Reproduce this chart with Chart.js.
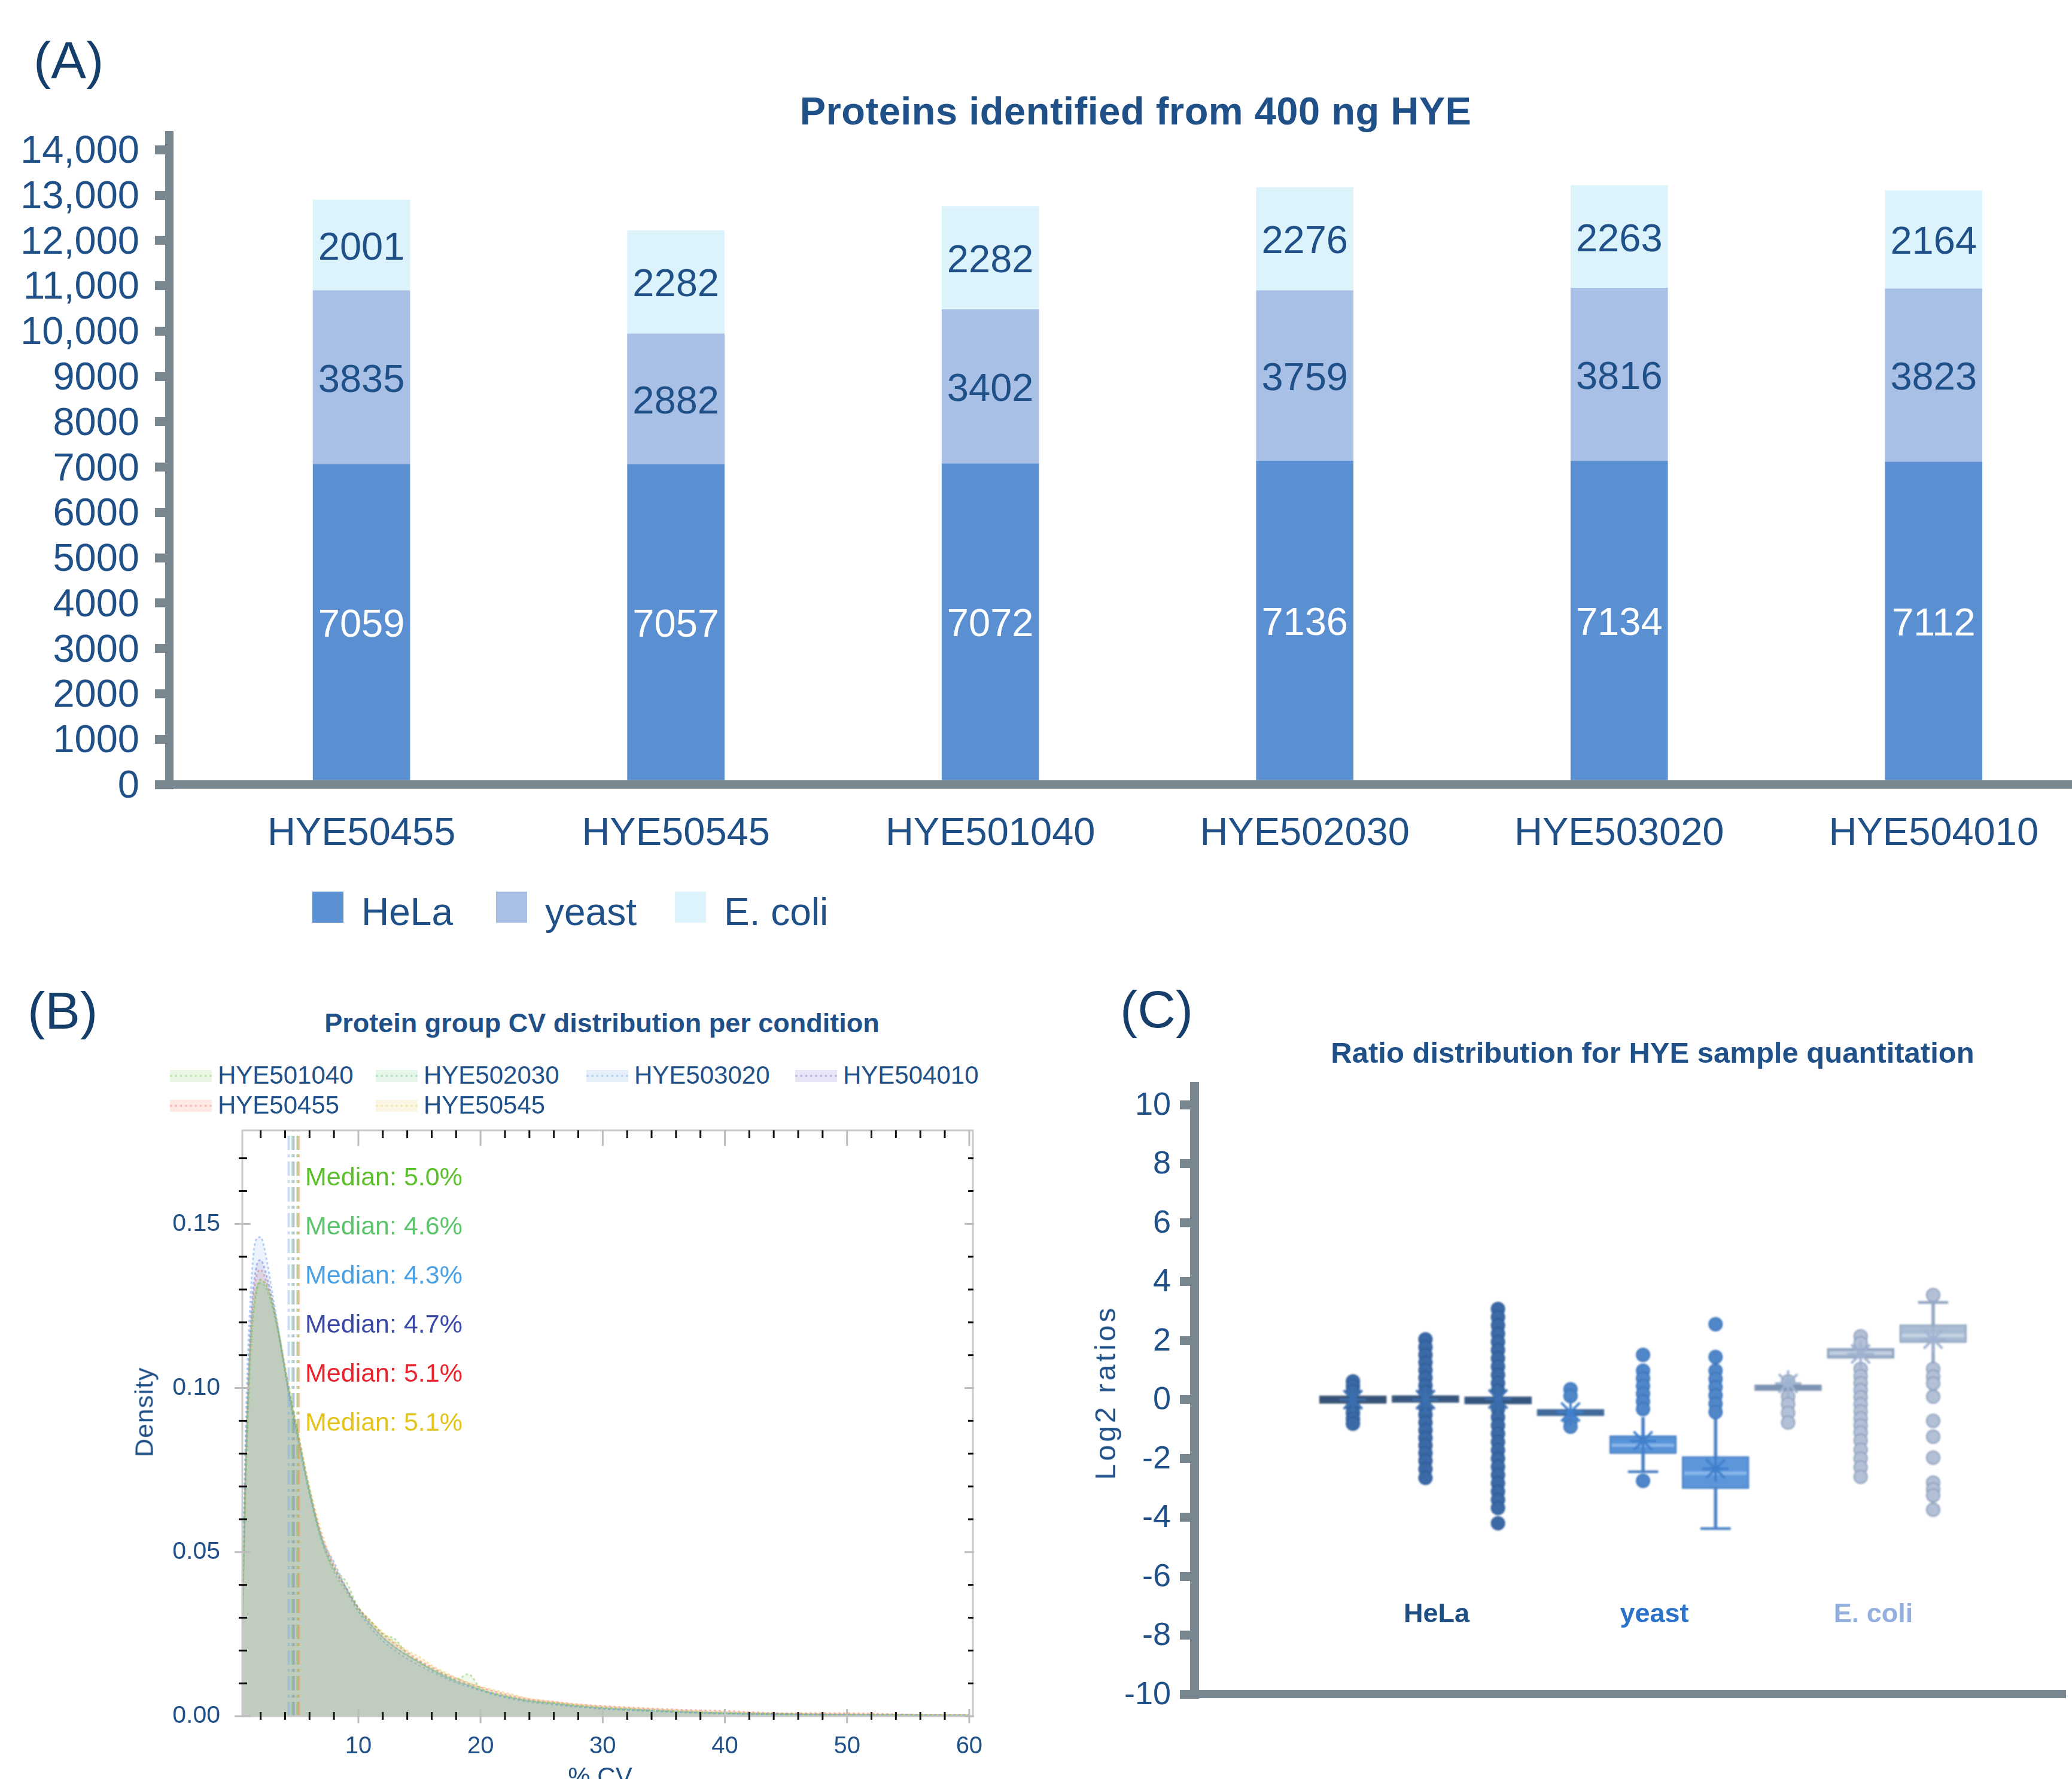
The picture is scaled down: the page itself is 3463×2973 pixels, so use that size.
<!DOCTYPE html>
<html>
<head>
<meta charset="utf-8">
<title>HYE benchmark</title>
<script src="https://cdn.jsdelivr.net/npm/chart.js@4.4.1/dist/chart.umd.min.js"></script>
<style>
  html, body { margin: 0; padding: 0; background: #ffffff; }
  #page { position: relative; width: 3463px; height: 2973px; overflow: hidden; background: #ffffff;
          font-family: "Liberation Sans", Arial, Helvetica, sans-serif; color: #1f5088; }
  #page canvas { position: absolute; }
  .t { position: absolute; white-space: nowrap; line-height: 1; }
  .sw { position: absolute; }
  .sw i { position: absolute; left: 0; right: 0; top: 50%; margin-top: -2px; border-top: 4px dotted; }
</style>
</head>
<body>
<div id="page">
  <canvas id="chartA" width="3463" height="1460" style="left:0;top:0;width:3463px;height:1460px"></canvas>
  <canvas id="chartB" width="1700" height="1113" style="left:0;top:1860px;width:1700px;height:1113px"></canvas>
  <canvas id="chartCAxes" width="1663" height="1183" style="left:1800px;top:1790px;width:1663px;height:1183px"></canvas>
  <canvas id="chartCMarks" width="1663" height="1183" style="left:1800px;top:1790px;width:1663px;height:1183px;filter:blur(1.6px)"></canvas>
</div>
<script>
// ---------- (A) protein identifications ----------
const conditions = ['HYE50455', 'HYE50545', 'HYE501040', 'HYE502030', 'HYE503020', 'HYE504010'];
const speciesNames = ['HeLa', 'yeast', 'E. coli'];
const helaCounts  = [7059, 7057, 7072, 7136, 7134, 7112];
const yeastCounts = [3835, 2882, 3402, 3759, 3816, 3823];
const ecoliCounts = [2001, 2282, 2282, 2276, 2263, 2164];
const countTicks = [0, 1000, 2000, 3000, 4000, 5000, 6000, 7000, 8000, 9000, 10000, 11000, 12000, 13000, 14000];
const countTickLabels = ['0', '1000', '2000', '3000', '4000', '5000', '6000', '7000', '8000', '9000',
                         '10,000', '11,000', '12,000', '13,000', '14,000'];

// ---------- (B) CV density per condition ----------
const cvSeriesNames = ['HYE501040', 'HYE502030', 'HYE503020', 'HYE504010', 'HYE50455', 'HYE50545'];
const cvGrid = [0.5, 0.8, 1.2, 1.6, 2.0, 2.5, 3.0, 3.5, 4.0, 4.5, 5.0, 6.0, 7.0, 8.0, 9.0, 10, 11, 12, 13, 14,
                15, 16, 17, 18, 19, 20, 22, 24, 26, 28, 30, 33, 36, 40, 45, 50, 55, 60];
const density501040 = [0.028, 0.074, 0.112, 0.128, 0.133, 0.131, 0.125, 0.116, 0.105, 0.095, 0.086, 0.068, 0.053,
  0.045, 0.041, 0.033, 0.029, 0.025, 0.0235, 0.019, 0.0165, 0.0145, 0.0128, 0.0112, 0.0128, 0.0085, 0.0063,
  0.0047, 0.0040, 0.0032, 0.0026, 0.0020, 0.0015, 0.0010, 0.0007, 0.0005, 0.0004, 0.0003];
const density502030 = [0.030, 0.078, 0.115, 0.129, 0.132, 0.130, 0.124, 0.116, 0.106, 0.096, 0.087, 0.069, 0.054,
  0.044, 0.038, 0.032, 0.028, 0.024, 0.021, 0.0185, 0.0162, 0.0142, 0.0122, 0.0105, 0.0095, 0.0082, 0.0061,
  0.0046, 0.0039, 0.0031, 0.0025, 0.0019, 0.0014, 0.0009, 0.0006, 0.0004, 0.0003, 0.0002];
const density503020 = [0.034, 0.092, 0.130, 0.145, 0.146, 0.139, 0.128, 0.117, 0.105, 0.094, 0.085, 0.068, 0.054,
  0.047, 0.039, 0.032, 0.027, 0.023, 0.020, 0.0175, 0.0155, 0.0135, 0.0118, 0.0102, 0.0090, 0.0078, 0.0057,
  0.0043, 0.0035, 0.0028, 0.0022, 0.0017, 0.0012, 0.0008, 0.0005, 0.0004, 0.0003, 0.0002];
const density504010 = [0.031, 0.082, 0.121, 0.136, 0.139, 0.134, 0.126, 0.116, 0.105, 0.095, 0.086, 0.068, 0.054,
  0.045, 0.039, 0.033, 0.028, 0.024, 0.021, 0.0185, 0.0165, 0.0142, 0.0124, 0.0108, 0.0094, 0.0080, 0.0060,
  0.0047, 0.0038, 0.0030, 0.0024, 0.0019, 0.0014, 0.0009, 0.0006, 0.0004, 0.0003, 0.0002];
const density50455 = [0.029, 0.079, 0.118, 0.133, 0.136, 0.132, 0.125, 0.116, 0.106, 0.096, 0.087, 0.069, 0.055,
  0.046, 0.039, 0.033, 0.029, 0.025, 0.022, 0.0195, 0.017, 0.015, 0.013, 0.0115, 0.0100, 0.0088, 0.0067,
  0.0052, 0.0044, 0.0036, 0.0031, 0.0025, 0.0020, 0.0016, 0.0009, 0.0009, 0.0005, 0.0004];
const density50545 = [0.028, 0.076, 0.114, 0.129, 0.133, 0.131, 0.126, 0.117, 0.107, 0.097, 0.088, 0.070, 0.056,
  0.046, 0.039, 0.033, 0.029, 0.0255, 0.0225, 0.020, 0.018, 0.0155, 0.0135, 0.0117, 0.0102, 0.0090, 0.0072,
  0.0053, 0.0043, 0.0035, 0.0029, 0.0023, 0.0018, 0.0012, 0.0008, 0.0006, 0.0005, 0.0004];
const cvMedians = [5.0, 4.6, 4.3, 4.7, 5.1, 5.1];
const densityTicks = [0, 0.05, 0.10, 0.15];
const densityTickLabels = ['0.00', '0.05', '0.10', '0.15'];
const cvTicks = [10, 20, 30, 40, 50, 60];

// ---------- (C) log2 ratio distributions ----------
const ratioGroups = ['HeLa', 'yeast', 'E. coli'];
const boxSlots   = [1, 2, 3, 4, 5, 6, 7, 8, 9];
const boxQ1      = [-0.13, -0.10, -0.15, -0.55, -1.84, -3.02, 0.30, 1.40, 1.93];
const boxQ3      = [0.13, 0.14, 0.10, -0.33, -1.22, -1.93, 0.50, 1.74, 2.55];
const boxMedian  = [0.00, 0.03, -0.03, -0.44, -1.55, -2.50, 0.40, 1.58, 2.18];
const boxMean    = [0.00, 0.00, 0.02, -0.42, -1.40, -2.35, 0.55, 1.55, 2.05];
const whiskerLow  = [null, null, null, null, -2.45, -4.38, null, null, 1.15];
const whiskerHigh = [null, null, null, null, -0.60, -0.58, null, null, 3.30];
const ratioOutliers = [
  [0.62, 0.45, 0.28, -0.25, -0.45, -0.65, -0.82],
  [2.05, 1.78, 1.52, 1.26, 1.0, 0.74, 0.48, 0.26, -0.28, -0.52, -0.78, -1.04, -1.3, -1.56, -1.82, -2.08, -2.36, -2.66],
  [3.08, 2.8, 2.52, 2.24, 1.96, 1.68, 1.4, 1.12, 0.84, 0.56, 0.3, -0.32, -0.6, -0.88, -1.16, -1.44, -1.72, -2.0,
   -2.28, -2.56, -2.84, -3.12, -3.4, -3.68, -4.2],
  [0.35, 0.12, -0.72, -0.92],
  [1.52, 0.98, 0.72, 0.46, 0.2, -0.06, -0.32, -2.76],
  [2.56, 1.45, 0.98, 0.7, 0.42, 0.14, -0.14, -0.42],
  [0.62, 0.1, -0.15, -0.45, -0.78],
  [2.15, 1.92, 1.04, 0.8, 0.56, 0.32, 0.08, -0.16, -0.4, -0.64, -0.88, -1.12, -1.39, -1.7, -2.0, -2.3, -2.62],
  [3.55, 1.04, 0.78, 0.55, 0.1, -0.72, -1.26, -1.97, -2.82, -3.05, -3.25, -3.74]
];
const ratioTicks = [-10, -8, -6, -4, -2, 0, 2, 4, 6, 8, 10];

// ---------- shared styling ----------
const FONT = '"Liberation Sans", Arial, Helvetica, sans-serif';
const INK = '#1f5088';
const AXIS = '#77868f';
Chart.defaults.font.family = FONT;
Chart.defaults.color = INK;

const page = document.getElementById('page');

function place(text, x, baseline, size, o = {}) {
  const d = document.createElement('div');
  d.className = 't';
  d.textContent = text;
  d.style.fontSize = size + 'px';
  d.style.top = (baseline - 0.8465 * size) + 'px';
  d.style.left = x + 'px';
  if (o.weight) d.style.fontWeight = o.weight;
  if (o.color) d.style.color = o.color;
  if (o.spacing) d.style.letterSpacing = o.spacing + 'px';
  if (o.align === 'center') d.style.transform = 'translateX(-50%)';
  page.appendChild(d);
  return d;
}
function placeVertical(text, cx, cy, size, o = {}) {
  const d = place(text, cx, 0, size, o);
  d.style.top = cy + 'px';
  d.style.transform = 'translate(-50%,-50%) rotate(-90deg)';
  return d;
}
// fixed axis band sizes; tick labels may overhang the plot edge without moving it
function fixWidth(w) {
  return s => { s.width = w; s.paddingTop = 0; s.paddingBottom = 0; };
}
function fixHeight(h) {
  return s => { s.height = h; s.paddingLeft = 0; s.paddingRight = 0; };
}

// ---------- chart A ----------
const segmentValues = {
  id: 'segmentValues',
  afterDatasetsDraw(chart) {
    const ctx = chart.ctx;
    ctx.save();
    ctx.font = '65px ' + FONT;
    ctx.textAlign = 'center';
    ctx.textBaseline = 'middle';
    chart.data.datasets.forEach((ds, di) => {
      chart.getDatasetMeta(di).data.forEach((bar, i) => {
        const p = bar.getProps(['x', 'y', 'base'], true);
        ctx.fillStyle = ds.valueColor;
        ctx.fillText(String(ds.data[i]), p.x, (p.y + p.base) / 2 + 6);
      });
    });
    ctx.restore();
  }
};

const speciesColors = ['#5a8fd2', '#a8bfe6', '#ddf3fc'];

new Chart(document.getElementById('chartA'), {
  type: 'bar',
  data: {
    labels: conditions.map((_, i) => i),
    datasets: [
      { label: speciesNames[0], data: helaCounts,  backgroundColor: speciesColors[0], valueColor: '#ffffff' },
      { label: speciesNames[1], data: yeastCounts, backgroundColor: speciesColors[1], valueColor: INK },
      { label: speciesNames[2], data: ecoliCounts, backgroundColor: speciesColors[2], valueColor: INK }
    ]
  },
  options: {
    responsive: false, animation: false, devicePixelRatio: 1,
    layout: { padding: { top: 226, left: 0, right: 0, bottom: 0 } },
    plugins: { legend: { display: false }, tooltip: { enabled: false } },
    datasets: { bar: { barThickness: 162, borderWidth: 0 } },
    scales: {
      x: {
        type: 'linear', stacked: true, offset: false, min: -0.611, max: 5.44,
        afterBuildTicks: s => { s.ticks = conditions.map((_, i) => ({ value: i })); },
        afterFit: fixHeight(149),
        ticks: { callback: (v, i) => conditions[i], autoSkip: false, maxRotation: 0,
                 font: { size: 65 }, color: INK, padding: 44 },
        grid: { display: false, drawTicks: false },
        border: { display: true, color: AXIS, width: 14 }
      },
      y: {
        type: 'linear', stacked: true, min: 0, max: 14320,
        afterBuildTicks: s => { s.ticks = countTicks.map(v => ({ value: v })); },
        afterFit: fixWidth(283),
        ticks: { callback: (v, i) => countTickLabels[i], autoSkip: false, font: { size: 65 }, color: INK,
                 padding: 26, labelOffset: 4 },
        grid: { drawOnChartArea: false, drawTicks: true, tickLength: 24, tickWidth: 15, tickColor: AXIS, lineWidth: 15, color: AXIS },
        border: { display: true, color: AXIS, width: 14 }
      }
    }
  },
  plugins: [segmentValues]
});

place('(A)', 56, 131, 88, { color: '#153f6a' });
place('Proteins identified from 400 ng HYE', 1898, 208, 65, { weight: 'bold', align: 'center', spacing: 0.5 });
const legendAX = [522, 829, 1128];
speciesNames.forEach((name, i) => {
  const b = document.createElement('div');
  b.className = 'sw';
  b.style.cssText = `left:${legendAX[i]}px;top:1490px;width:52px;height:52px;background:${speciesColors[i]}`;
  page.appendChild(b);
  place(name, legendAX[i] + 82, 1546, 64);
});

// ---------- chart B ----------
const cvColors = ['120,200,80', '95,190,120', '100,160,230', '110,100,200', '240,110,90', '230,200,80'];
const medianTextColors = ['#5bbf2b', '#5cc46b', '#4aa0e2', '#3a48a6', '#e9222b', '#e3c31c'];
const densitySeries = [density501040, density502030, density503020, density504010, density50455, density50545];
const densityMax = 0.1785;

const boxFrame = {
  id: 'boxFrame',
  afterDraw(chart) {
    const { ctx, chartArea: a, scales } = chart;
    const xs = scales.x, ys = scales.y;
    const seg = (x1, y1, x2, y2, c) => {
      ctx.beginPath(); ctx.strokeStyle = c; ctx.lineWidth = 3;
      ctx.moveTo(x1, y1); ctx.lineTo(x2, y2); ctx.stroke();
    };
    ctx.save();
    ctx.strokeStyle = '#c9c9c9'; ctx.lineWidth = 3;
    ctx.strokeRect(a.left, a.top, a.right - a.left, a.bottom - a.top);
    for (let k = 0; k <= 17; k++) {
      const py = ys.getPixelForValue(k / 100);
      if (k % 5 === 0) {
        seg(a.left - 13, py, a.left + 14, py, '#bdbdbd');
        seg(a.right - 14, py, a.right + 2, py, '#bdbdbd');
      } else {
        seg(a.left - 6, py, a.left + 8, py, '#111111');
        seg(a.right - 8, py, a.right + 1, py, '#111111');
      }
    }
    for (let v = 2; v <= 60; v += 2) {
      const px = xs.getPixelForValue(v);
      if (v % 10 === 0) {
        seg(px, a.top, px, a.top + 26, '#bdbdbd');
        seg(px, a.bottom - 12, px, a.bottom + 12, '#bdbdbd');
      } else {
        seg(px, a.top, px, a.top + 13, '#111111');
        seg(px, a.bottom - 7, px, a.bottom + 6, '#111111');
      }
    }
    ctx.restore();
  }
};

const bDatasets = [];
cvMedians.forEach((m, i) => {
  bDatasets.push({
    label: cvSeriesNames[i] + ' median',
    data: [{ x: m, y: 0 }, { x: m, y: densityMax }],
    borderColor: `rgba(${cvColors[i]},0.35)`, borderWidth: 4, borderDash: [24, 7, 5, 7],
    pointRadius: 0, fill: false, order: 0
  });
});
densitySeries.forEach((vals, i) => {
  bDatasets.push({
    label: cvSeriesNames[i],
    data: cvGrid.map((x, k) => ({ x, y: vals[k] })),
    borderColor: `rgba(${cvColors[i]},0.45)`, borderWidth: 3, borderDash: [4, 4],
    backgroundColor: `rgba(${cvColors[i]},0.12)`,
    fill: 'origin', pointRadius: 0, tension: 0.35, cubicInterpolationMode: 'monotone', order: 1
  });
});

new Chart(document.getElementById('chartB'), {
  type: 'line',
  data: { datasets: bDatasets },
  options: {
    responsive: false, animation: false, devicePixelRatio: 1,
    layout: { padding: { top: 29, left: 0, right: 74, bottom: 0 } },
    plugins: { legend: { display: false }, tooltip: { enabled: false } },
    scales: {
      x: {
        type: 'linear', min: 0.5, max: 60.3,
        afterBuildTicks: s => { s.ticks = cvTicks.map(v => ({ value: v })); },
        afterFit: fixHeight(105),
        ticks: { callback: v => String(v), autoSkip: false, maxRotation: 0, font: { size: 40 }, color: INK, padding: 27 },
        grid: { display: false, drawTicks: false },
        border: { display: false }
      },
      y: {
        type: 'linear', min: 0, max: densityMax,
        afterBuildTicks: s => { s.ticks = densityTicks.map(v => ({ value: v })); },
        afterFit: fixWidth(405),
        ticks: { callback: (v, i) => densityTickLabels[i], autoSkip: false, font: { size: 41 }, color: INK, padding: 37 },
        grid: { display: false, drawTicks: false },
        border: { display: false }
      }
    }
  },
  plugins: [boxFrame]
});

place('(B)', 46, 1719, 88, { color: '#153f6a' });
place('Protein group CV distribution per condition', 1006, 1725, 45, { weight: 'bold', align: 'center' });
const legendBPos = [[284, 1812], [628, 1812], [980, 1812], [1329, 1812], [284, 1862], [628, 1862]];
cvSeriesNames.forEach((name, i) => {
  const [lx, lb] = legendBPos[i];
  const s = document.createElement('div');
  s.className = 'sw';
  s.style.cssText = `left:${lx}px;top:${lb - 24}px;width:70px;height:20px;background:rgba(${cvColors[i]},0.16)`;
  const dots = document.createElement('i');
  dots.style.borderTopColor = `rgba(${cvColors[i]},0.35)`;
  s.appendChild(dots);
  page.appendChild(s);
  place(name, lx + 80, lb, 42);
});
const medianBaselines = [1981, 2063, 2145, 2227, 2309, 2391];
cvMedians.forEach((m, i) => {
  place('Median: ' + m.toFixed(1) + '%', 510, medianBaselines[i], 43, { color: medianTextColors[i] });
});
placeVertical('Density', 241, 2360, 43, { spacing: 1 });
place('% CV', 1003, 2984, 42, { align: 'center' });

// ---------- chart C ----------
new Chart(document.getElementById('chartCAxes'), {
  type: 'scatter',
  data: { datasets: [] },
  options: {
    responsive: false, animation: false, devicePixelRatio: 1,
    layout: { padding: { top: 25, left: 0, right: 11, bottom: 0 } },
    plugins: { legend: { display: false }, tooltip: { enabled: false } },
    scales: {
      x: {
        type: 'linear', min: -1.188, max: 10.7, offset: false,
        afterFit: fixHeight(142),
        ticks: { display: false },
        grid: { display: false, drawTicks: false },
        border: { display: true, color: AXIS, width: 14 }
      },
      y: {
        type: 'linear', min: -10, max: 10.63,
        afterBuildTicks: s => { s.ticks = ratioTicks.map(v => ({ value: v })); },
        afterFit: fixWidth(196),
        ticks: { callback: v => String(v), autoSkip: false, font: { size: 54 }, color: INK, padding: 15, labelOffset: 2 },
        grid: { drawOnChartArea: false, drawTicks: true, tickLength: 24, tickWidth: 15, tickColor: AXIS, lineWidth: 15, color: AXIS },
        border: { display: true, color: AXIS, width: 15 }
      }
    }
  }
});

const boxFill   = ['#3f5b7c', '#42618a', '#3f6290', '#4a76aa', '#5893d8', '#5d97da', '#8da3c1', '#9fb2cc', '#a9bbd3'];
const boxEdge   = ['#344d6b', '#37547a', '#35557f', '#3f6796', '#4a80c4', '#4c84c6', '#7e93b0', '#8da1bd', '#95a8c2'];
const medianTone = ['#35527a', '#35557f', '#33537c', '#41699a', '#8bb6ea', '#8db8ea', '#7c93b3', '#c3d0e2', '#c6d3e4'];
const dotFill   = ['#3b6aa7', '#4f87c9', '#b3c1d6'];
const dotEdge   = ['#2e5b97', '#3c74b9', '#8d9fbd'];
const starTone  = ['#3a6fb0', '#3f7fcc', '#9fb2d0'];
const slotIndex = c => (c.raw && c.raw.x ? c.raw.x - 1 : 0);
const slotGroup = c => Math.floor(slotIndex(c) / 3);

const whiskerData = [];
const capData = [];
boxSlots.forEach((s, i) => {
  if (whiskerLow[i] !== null) {
    whiskerData.push({ x: s, y: [whiskerLow[i], whiskerHigh[i]] });
  }
});
capData.push({ x: boxSlots[4], y: [whiskerLow[4] - 0.04, whiskerLow[4] + 0.04] });
capData.push({ x: boxSlots[5], y: [whiskerLow[5] - 0.04, whiskerLow[5] + 0.04] });
capData.push({ x: boxSlots[8], y: [whiskerHigh[8] - 0.04, whiskerHigh[8] + 0.04] });

const outlierPoints = [];
ratioOutliers.forEach((vals, i) => vals.forEach(v => outlierPoints.push({ x: boxSlots[i], y: v })));

new Chart(document.getElementById('chartCMarks'), {
  type: 'bar',
  data: {
    datasets: [
      { type: 'bar', label: 'whisker', data: whiskerData, barThickness: 5, grouped: false, order: 6,
        backgroundColor: c => boxEdge[slotIndex(c)] },
      { type: 'bar', label: 'cap', data: capData, barThickness: 50, grouped: false, order: 6,
        backgroundColor: c => boxEdge[slotIndex(c)] },
      { type: 'bar', label: 'IQR', data: boxSlots.map((s, i) => ({ x: s, y: [boxQ1[i], boxQ3[i]] })),
        barThickness: 112, grouped: false, order: 5, borderWidth: 3, borderSkipped: false,
        backgroundColor: c => boxFill[slotIndex(c)], borderColor: c => boxEdge[slotIndex(c)] },
      { type: 'bar', label: 'median', data: boxSlots.map((s, i) => ({ x: s, y: [boxMedian[i] - 0.05, boxMedian[i] + 0.05] })),
        barThickness: 104, grouped: false, order: 4,
        backgroundColor: c => medianTone[slotIndex(c)] },
      { type: 'scatter', label: 'outliers', data: outlierPoints, order: 2,
        pointStyle: 'circle', pointRadius: 11, borderWidth: 2,
        backgroundColor: c => dotFill[slotGroup(c)], borderColor: c => dotEdge[slotGroup(c)] },
      { type: 'scatter', label: 'mean', data: boxSlots.map((s, i) => ({ x: s, y: boxMean[i] })), order: 1,
        pointStyle: 'star', pointRadius: 22, borderWidth: 4,
        borderColor: c => starTone[slotGroup(c)], backgroundColor: c => starTone[slotGroup(c)] }
    ]
  },
  options: {
    responsive: false, animation: false, devicePixelRatio: 1,
    layout: { padding: { top: 25, left: 196, right: 11, bottom: 142 } },
    plugins: { legend: { display: false }, tooltip: { enabled: false } },
    scales: {
      x: { type: 'linear', display: false, min: -1.188, max: 10.7, offset: false, grid: { offset: false } },
      y: { type: 'linear', display: false, min: -10, max: 10.63 }
    }
  }
});

place('(C)', 1872, 1717, 88, { color: '#153f6a' });
place('Ratio distribution for HYE sample quantitation', 2762, 1776, 49, { weight: 'bold', align: 'center' });
placeVertical('Log2 ratios', 1848, 2327, 48, { spacing: 5 });
const groupLabelX = [2401, 2765, 3131];
const groupLabelColors = ['#1f4e85', '#2b73c8', '#92afe0'];
ratioGroups.forEach((g, i) => place(g, groupLabelX[i], 2711, 45, { weight: 'bold', align: 'center', color: groupLabelColors[i] }));
</script>
</body>
</html>
